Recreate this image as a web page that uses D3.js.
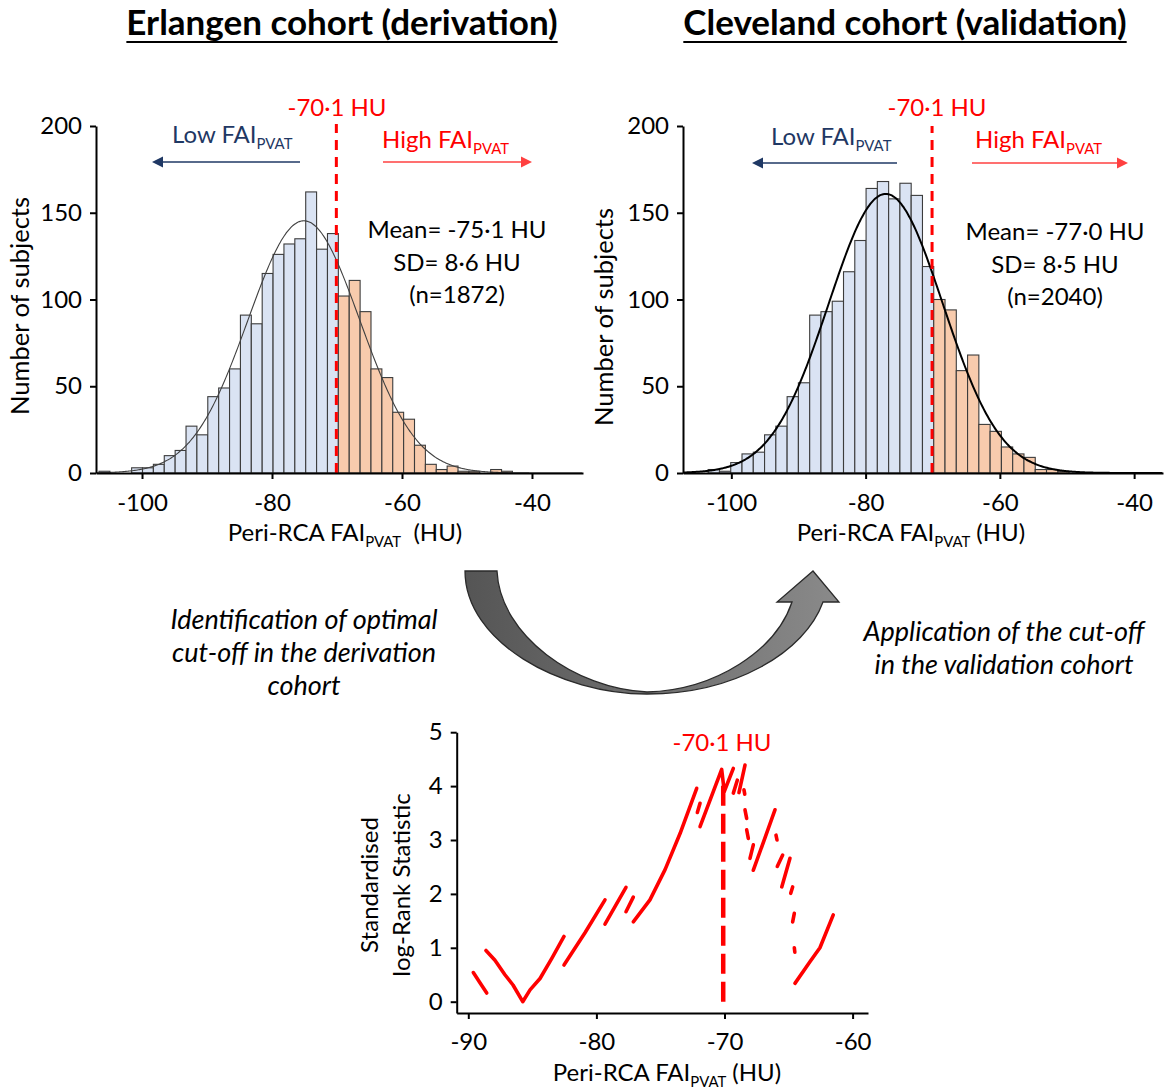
<!DOCTYPE html>
<html>
<head>
<meta charset="utf-8">
<script src="https://cdn.jsdelivr.net/npm/d3@7"></script>
<style>
  body { margin: 0; background: #fff; }
  svg { display: block; }
  text { font-family: Lato, "Open Sans", sans-serif; white-space: pre; }
</style>
</head>
<body>
<svg id="fig" width="1165" height="1089"></svg>
<script>
// ---- data -------------------------------------------------------------
const cutoffHU = -70.1;

// Erlangen cohort (derivation): counts per bin
const erlangenBinStart = -106.62;
const erlangenBinWidth = 1.674;
const erlangenCounts = [1, 0, 0, 3, 3, 5, 10, 13, 27, 22, 44, 49, 60, 91, 86, 115, 126, 132, 135, 162, 129, 138,
                        102, 111, 93, 60, 55, 35, 31, 16, 5, 2, 4, 1, 1, 0, 2, 1];
const erlangenMean = -75.1, erlangenSD = 8.6, erlangenN = 1872;

// Cleveland cohort (validation): counts per bin
const clevelandBinStart = -103.45;
const clevelandBinWidth = 1.68;
const clevelandCounts = [2, 1, 6, 11, 12, 22, 27, 44, 52, 91, 93, 99, 116, 134, 164, 168, 158, 167, 160, 119,
                         100, 94, 59, 68, 28, 24, 15, 11, 9, 2, 2, 1];
const clevelandMean = -77.0, clevelandSD = 8.5, clevelandN = 2040;

const histXTicks = [-100, -80, -60, -40];
const histYTicks = [0, 50, 100, 150, 200];

// Standardised log-rank statistic vs cut-off (HU), drawn as separate runs
const logRankRuns = [
  [[-89.61, 0.54], [-89.09, 0.35], [-88.56, 0.16]],
  [[-88.62, 0.95], [-87.92, 0.77], [-87.14, 0.50], [-86.51, 0.31], [-85.75, 0.0], [-85.18, 0.22], [-84.40, 0.43], [-83.47, 0.81], [-82.53, 1.21]],
  [[-82.53, 0.68], [-80.89, 1.28], [-79.33, 1.89]],
  [[-79.33, 1.44], [-77.69, 2.12]],
  [[-77.69, 1.67], [-77.12, 1.94]],
  [[-77.12, 1.48], [-75.82, 1.89], [-74.64, 2.45], [-73.47, 3.12], [-72.17, 3.96]],
  [[-72.12, 3.51], [-71.91, 3.68]],
  [[-71.91, 3.25], [-70.22, 4.31], [-70.02, 3.90], [-69.31, 4.33]],
  [[-69.31, 3.87], [-69.00, 4.11]],
  [[-68.87, 3.88], [-68.40, 4.39]],
  [[-68.48, 3.93], [-68.42, 3.85]],
  [[-68.40, 3.56], [-68.27, 3.40]],
  [[-68.27, 3.19], [-68.14, 3.03]],
  [[-68.01, 2.66], [-67.75, 2.91]],
  [[-67.75, 2.44], [-66.84, 3.04], [-66.06, 3.56]],
  [[-65.98, 3.09], [-65.90, 3.00]],
  [[-65.88, 2.51], [-65.46, 2.72]],
  [[-65.53, 2.13], [-64.89, 2.66]],
  [[-64.83, 2.01], [-64.68, 2.13]],
  [[-64.68, 1.48], [-64.55, 1.64]],
  [[-64.55, 1.00], [-64.51, 0.92]],
  [[-64.50, 0.34], [-63.33, 0.74], [-62.55, 1.00], [-61.51, 1.61]]
];
const logRankXTicks = [-90, -80, -70, -60];
const logRankYTicks = [0, 1, 2, 3, 4, 5];

// ---- styles -----------------------------------------------------------
const blueFill = "#DAE3F3";
const orangeFill = "#F8CBAD";
const navy = "#1F3864";
const red = "#FF0000";
const FS = 24;

const svg = d3.select("#fig");
const fmt = d => String(d);

function label(x, y, str, opts = {}) {
  const t = svg.append("text")
    .attr("x", x).attr("y", y)
    .attr("text-anchor", opts.anchor || "middle")
    .attr("font-size", opts.size || FS)
    .attr("fill", opts.color || "#000")
    .text(str);
  if (opts.weight) t.attr("font-weight", opts.weight);
  if (opts.italic) t.attr("font-style", "italic");
  return t;
}

// text with a subscript part
function subLabel(parent, x, y, before, sub, after, opts = {}) {
  const size = opts.size || FS;
  const t = parent.append("text")
    .attr("x", x).attr("y", y)
    .attr("text-anchor", opts.anchor || "middle")
    .attr("font-size", size)
    .attr("fill", opts.color || "#000");
  t.append("tspan").text(before);
  t.append("tspan").attr("font-size", size * 0.62).attr("dy", 6).text(sub);
  if (after) t.append("tspan").attr("dy", -6).text(after);
  return t;
}

function styleAxis(g) {
  g.select(".domain").attr("stroke", "#000").attr("stroke-width", 2);
  g.selectAll(".tick line").attr("stroke", "#000").attr("stroke-width", 2);
  g.selectAll(".tick text").attr("font-size", FS).attr("fill", "#000")
    .style("font-family", "Lato, 'Open Sans', sans-serif");
}

function arrow(x1, x2, y, color) {
  const dir = Math.sign(x2 - x1);
  const headLen = 11, headHalf = 5.5;
  svg.append("line")
    .attr("x1", x1).attr("x2", x2 - dir * headLen).attr("y1", y).attr("y2", y)
    .attr("stroke", color).attr("stroke-width", 1.6);
  svg.append("path")
    .attr("d", d3.line()([[x2, y], [x2 - dir * headLen, y - headHalf], [x2 - dir * headLen, y + headHalf]]) + "Z")
    .attr("fill", color);
}

function histogram(p) {
  const x = d3.scaleLinear().domain(p.xDomain).range(p.xRange);
  const y = d3.scaleLinear().domain([0, 200]).range(p.yRange);
  const g = svg.append("g");

  const bins = p.counts.map((c, i) => ({
    x0: p.binStart + i * p.binWidth,
    x1: p.binStart + (i + 1) * p.binWidth,
    c
  })).filter(d => d.c > 0);

  g.selectAll("rect").data(bins).join("rect")
    .attr("x", d => x(d.x0)).attr("width", d => x(d.x1) - x(d.x0))
    .attr("y", d => y(d.c)).attr("height", d => y(0) - y(d.c))
    .attr("fill", d => (d.x0 + d.x1) / 2 > cutoffHU ? orangeFill : blueFill)
    .attr("stroke", "#3c3c3c").attr("stroke-width", 1.1);

  // fitted normal curve scaled to counts per bin
  const peak = p.n * p.binWidth / (p.sd * Math.sqrt(2 * Math.PI));
  const pts = d3.range(p.xDomain[0], p.xDomain[1], 0.2)
    .map(v => [x(v), y(peak * Math.exp(-((v - p.mean) ** 2) / (2 * p.sd * p.sd)))]);
  g.append("path").attr("d", d3.line().curve(d3.curveBasis)(pts))
    .attr("fill", "none").attr("stroke", p.curveColor).attr("stroke-width", p.curveWidth);

  // cut-off line
  g.append("line")
    .attr("x1", x(cutoffHU)).attr("x2", x(cutoffHU))
    .attr("y1", y(0)).attr("y2", p.cutTop)
    .attr("stroke", red).attr("stroke-width", 3).attr("stroke-dasharray", "10,7");

  const ax = g.append("g").attr("transform", `translate(0,${y(0)})`)
    .call(d3.axisBottom(x).tickValues(histXTicks).tickFormat(fmt).tickSize(6).tickSizeOuter(0).tickPadding(15));
  styleAxis(ax);
  const ay = g.append("g").attr("transform", `translate(${p.xRange[0]},0)`)
    .call(d3.axisLeft(y).tickValues(histYTicks).tickFormat(fmt).tickSize(6).tickSizeOuter(0).tickPadding(8));
  styleAxis(ay);
  return x;
}

// ---- histograms -------------------------------------------------------
histogram({
  counts: erlangenCounts, binStart: erlangenBinStart, binWidth: erlangenBinWidth,
  mean: erlangenMean, sd: erlangenSD, n: erlangenN,
  xDomain: [-107.08, -32.15], xRange: [96, 583], yRange: [473, 126],
  curveColor: "#404040", curveWidth: 1.1, cutTop: 124
});
histogram({
  counts: clevelandCounts, binStart: clevelandBinStart, binWidth: clevelandBinWidth,
  mean: clevelandMean, sd: clevelandSD, n: clevelandN,
  xDomain: [-107.2, -35.7], xRange: [683, 1163], yRange: [473, 126],
  curveColor: "#000", curveWidth: 2, cutTop: 126
});

// titles
[[342, "Erlangen cohort (derivation)"], [905, "Cleveland cohort (validation)"]].forEach(([cx, s]) => {
  const t = label(cx, 35, s, { size: 35, weight: "bold" });
  const w = t.node().getComputedTextLength();
  svg.append("line").attr("x1", cx - w / 2).attr("x2", cx + w / 2)
    .attr("y1", 42).attr("y2", 42).attr("stroke", "#000").attr("stroke-width", 2.2);
});

// cut-off labels and direction arrows
label(337, 116, "-70·1 HU", { color: red });
label(937, 116, "-70·1 HU", { color: red });

subLabel(svg, 172, 143, "Low FAI", "PVAT", null, { anchor: "start", color: navy });
subLabel(svg, 382, 148, "High FAI", "PVAT", null, { anchor: "start", color: red });
arrow(300, 152, 162, navy);
arrow(383, 532, 162, "#FF4040");

subLabel(svg, 771, 145, "Low FAI", "PVAT", null, { anchor: "start", color: navy });
subLabel(svg, 975, 148, "High FAI", "PVAT", null, { anchor: "start", color: red });
arrow(897, 752, 163, navy);
arrow(972, 1128, 163, "#FF4040");

// summary statistics
label(457, 238, `Mean= ${erlangenMean.toFixed(1).replace(".", "·")} HU`);
label(457, 271, `SD= ${erlangenSD.toFixed(1).replace(".", "·")} HU`);
label(457, 303, `(n=${erlangenN})`);
label(1055, 240, `Mean= ${clevelandMean.toFixed(1).replace(".", "·")} HU`);
label(1055, 273, `SD= ${clevelandSD.toFixed(1).replace(".", "·")} HU`);
label(1055, 305, `(n=${clevelandN})`);

// axis titles
label(0, 0, "Number of subjects", { size: 25.5 }).attr("transform", "translate(29,306) rotate(-90)");
label(0, 0, "Number of subjects", { size: 25.5 }).attr("transform", "translate(613,317) rotate(-90)");
subLabel(svg, 345, 541, "Peri-RCA FAI", "PVAT", "  (HU)");
subLabel(svg, 911, 541, "Peri-RCA FAI", "PVAT", " (HU)");

// ---- curved arrow between the cohorts ---------------------------------
const defs = svg.append("defs");
const grad = defs.append("linearGradient").attr("id", "arrowGrad")
  .attr("x1", "0%").attr("x2", "100%").attr("y1", "0%").attr("y2", "0%");
grad.append("stop").attr("offset", "0%").attr("stop-color", "#555555");
grad.append("stop").attr("offset", "100%").attr("stop-color", "#8a8a8a");
svg.append("path")
  .attr("d", "M465,571 L497,571 C500,636 576,689 647,692 C716,690 776,650 792,602 L777,602 L813,571 L839,602 L823,602 C805,652 735,694 647,694 C560,694 465,642 465,571 Z")
  .attr("fill", "url(#arrowGrad)").attr("stroke", "#2a2a2a").attr("stroke-width", 1.3);

label(304, 629, "Identification of optimal", { italic: true, size: 27 });
label(304, 662, "cut-off in the derivation", { italic: true, size: 27 });
label(304, 695, "cohort", { italic: true, size: 27 });
label(1004, 641, "Application of the cut-off", { italic: true, size: 27 });
label(1004, 674, "in the validation cohort", { italic: true, size: 27 });

// ---- log-rank statistic panel -----------------------------------------
const xB = d3.scaleLinear().domain([-90, -60]).range([468.3, 852.6]);
const yB = d3.scaleLinear().domain([0, 5]).range([1001.7, 732.2]);
const axisY = 1013, axisX = 456.7;

const gB = svg.append("g");
gB.selectAll("path.run").data(logRankRuns).join("path")
  .attr("class", "run")
  .attr("d", d3.line().x(d => xB(d[0])).y(d => yB(d[1])))
  .attr("fill", "none").attr("stroke", red).attr("stroke-width", 3.6)
  .attr("stroke-linecap", "round").attr("stroke-linejoin", "round");

gB.append("line")
  .attr("x1", xB(cutoffHU)).attr("x2", xB(cutoffHU))
  .attr("y1", yB(0)).attr("y2", yB(4.05))
  .attr("stroke", red).attr("stroke-width", 4.5).attr("stroke-dasharray", "20,8");

const xBAxis = xB.copy().domain([xB.invert(axisX), xB.invert(868)]).range([axisX, 868]);
const yBAxis = yB.copy().domain([yB.invert(axisY), 5]).range([axisY, yB(5)]);
const bx = gB.append("g").attr("transform", `translate(0,${axisY})`)
  .call(d3.axisBottom(xBAxis).tickValues(logRankXTicks).tickFormat(fmt).tickSize(6).tickSizeOuter(0).tickPadding(14));
styleAxis(bx);
const by = gB.append("g").attr("transform", `translate(${axisX},0)`)
  .call(d3.axisLeft(yBAxis).tickValues(logRankYTicks).tickFormat(fmt).tickSize(6).tickSizeOuter(0).tickPadding(8));
styleAxis(by);

label(722, 751, "-70·1 HU", { color: red });
subLabel(svg, 667, 1081, "Peri-RCA FAI", "PVAT", " (HU)");
label(0, 0, "Standardised").attr("transform", "translate(378,885) rotate(-90)");
label(0, 0, "log-Rank Statistic").attr("transform", "translate(410,885) rotate(-90)");
</script>
</body>
</html>
